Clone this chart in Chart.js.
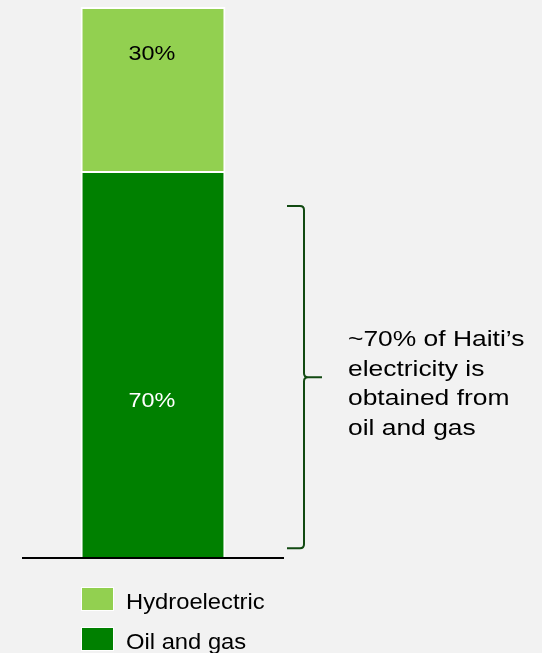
<!DOCTYPE html>
<html>
<head>
<meta charset="utf-8">
<script src="https://cdn.jsdelivr.net/npm/chart.js@4.4.1/dist/chart.umd.min.js"></script>
<style>
  html, body { margin: 0; padding: 0; background: #f2f2f2; }
  #wrap { width: 542px; height: 653px; position: relative; }
</style>
</head>
<body>
<div id="wrap"><canvas id="mixChart"></canvas></div>
<script>
// Haiti electricity generation mix, share of total (%)
const categories = ['Haiti'];
const sources = ['Oil and gas', 'Hydroelectric'];
const shares = [70, 30];
const colors = ['#008000', '#92d050'];
const labelColors = ['#ffffff', '#000000'];
const noteLines = ['~70% of Haiti\u2019s', 'electricity is', 'obtained from', 'oil and gas'];

const FONT = '"Liberation Sans", Arial, sans-serif';

// text drawn slightly widened, like the original slide font
function wideText(ctx, text, x, y, size, stretch, align) {
    ctx.save();
    ctx.font = size + 'px ' + FONT;
    ctx.textBaseline = 'alphabetic';
    ctx.textAlign = align || 'left';
    ctx.translate(x, y);
    ctx.scale(stretch, 1);
    ctx.fillText(text, 0, 0);
    ctx.restore();
}

// value labels inside each segment, brace + note, baseline and legend
const decorations = {
    id: 'decorations',
    afterDatasetsDraw(chart) {
        const ctx = chart.ctx;
        const x = chart.scales.x;
        const y = chart.scales.y;

        // segment labels (baseline at a fraction of each segment's height)
        const labelPos = [0.39, 0.68];
        let base = 0;
        chart.data.datasets.forEach((ds, i) => {
            const bar = chart.getDatasetMeta(i).data[0];
            const v = ds.data[0];
            const yy = y.getPixelForValue(base + v * labelPos[i]);
            ctx.fillStyle = labelColors[i];
            wideText(ctx, v + '%', bar.x - 1, yy, 20, 1.17, 'center');
            base += v;
        });

        // baseline under the bar
        ctx.save();
        ctx.strokeStyle = '#000';
        ctx.lineWidth = 2;
        ctx.beginPath();
        ctx.moveTo(x.left, y.bottom + 1);
        ctx.lineTo(x.right, y.bottom + 1);
        ctx.stroke();
        ctx.restore();

        // curly brace next to the oil and gas segment
        const top = y.getPixelForValue(63.8);
        const bot = y.getPixelForValue(1.6);
        const mid = (top + bot) / 2;
        const bx = x.right + 3;
        const vx = bx + 17;
        const tip = vx + 18;
        const r = 4;
        ctx.save();
        ctx.strokeStyle = '#124a12';
        ctx.lineWidth = 2;
        ctx.beginPath();
        ctx.moveTo(bx, top);
        ctx.lineTo(vx - r, top);
        ctx.quadraticCurveTo(vx, top, vx, top + r);
        ctx.lineTo(vx, mid - r);
        ctx.quadraticCurveTo(vx, mid, vx + r, mid);
        ctx.lineTo(tip, mid);
        ctx.moveTo(vx + r, mid);
        ctx.quadraticCurveTo(vx, mid, vx, mid + r);
        ctx.lineTo(vx, bot - r);
        ctx.quadraticCurveTo(vx, bot, vx - r, bot);
        ctx.lineTo(bx, bot);
        ctx.stroke();
        ctx.restore();

        // note text beside the brace
        ctx.fillStyle = '#000';
        const lh = 29.6;
        const firstBase = mid - 31;
        noteLines.forEach((t, i) => wideText(ctx, t, tip + 26, firstBase + i * lh, 22, 1.2));

        // legend, top entry is the top segment
        const order = chart.data.datasets.map((d, i) => i).reverse();
        order.forEach((i, k) => {
            const ds = chart.data.datasets[i];
            const sx = 81, sy = 587 + k * 40;
            ctx.fillStyle = '#ffffff';
            ctx.fillRect(sx, sy, 33, 24);
            ctx.fillStyle = ds.backgroundColor;
            ctx.fillRect(sx + 1, sy + 1, 31, 22);
            ctx.fillStyle = '#000';
            wideText(ctx, ds.label, sx + 45, sy + 22, 22, 1.08);
        });
    }
};

new Chart(document.getElementById('mixChart'), {
    type: 'bar',
    data: {
        labels: categories,
        datasets: sources.map((name, i) => ({
            label: name,
            data: [shares[i]],
            backgroundColor: colors[i],
            borderColor: '#ffffff',
            borderWidth: i === 0 ? { top: 1, left: 2, right: 2, bottom: 0 } : { top: 2, left: 2, right: 2, bottom: 1 },
            borderSkipped: false,
            barPercentage: 0.553,
            categoryPercentage: 1
        }))
    },
    options: {
        responsive: true,
        maintainAspectRatio: false,
        animation: false,
        layout: { padding: { left: 22, right: 258, top: 7, bottom: 96 } },
        scales: {
            x: { stacked: true, display: false },
            y: { stacked: true, display: false, min: 0, max: 100 }
        },
        plugins: {
            legend: { display: false },
            tooltip: { enabled: false }
        }
    },
    plugins: [decorations]
});
</script>
</body>
</html>
